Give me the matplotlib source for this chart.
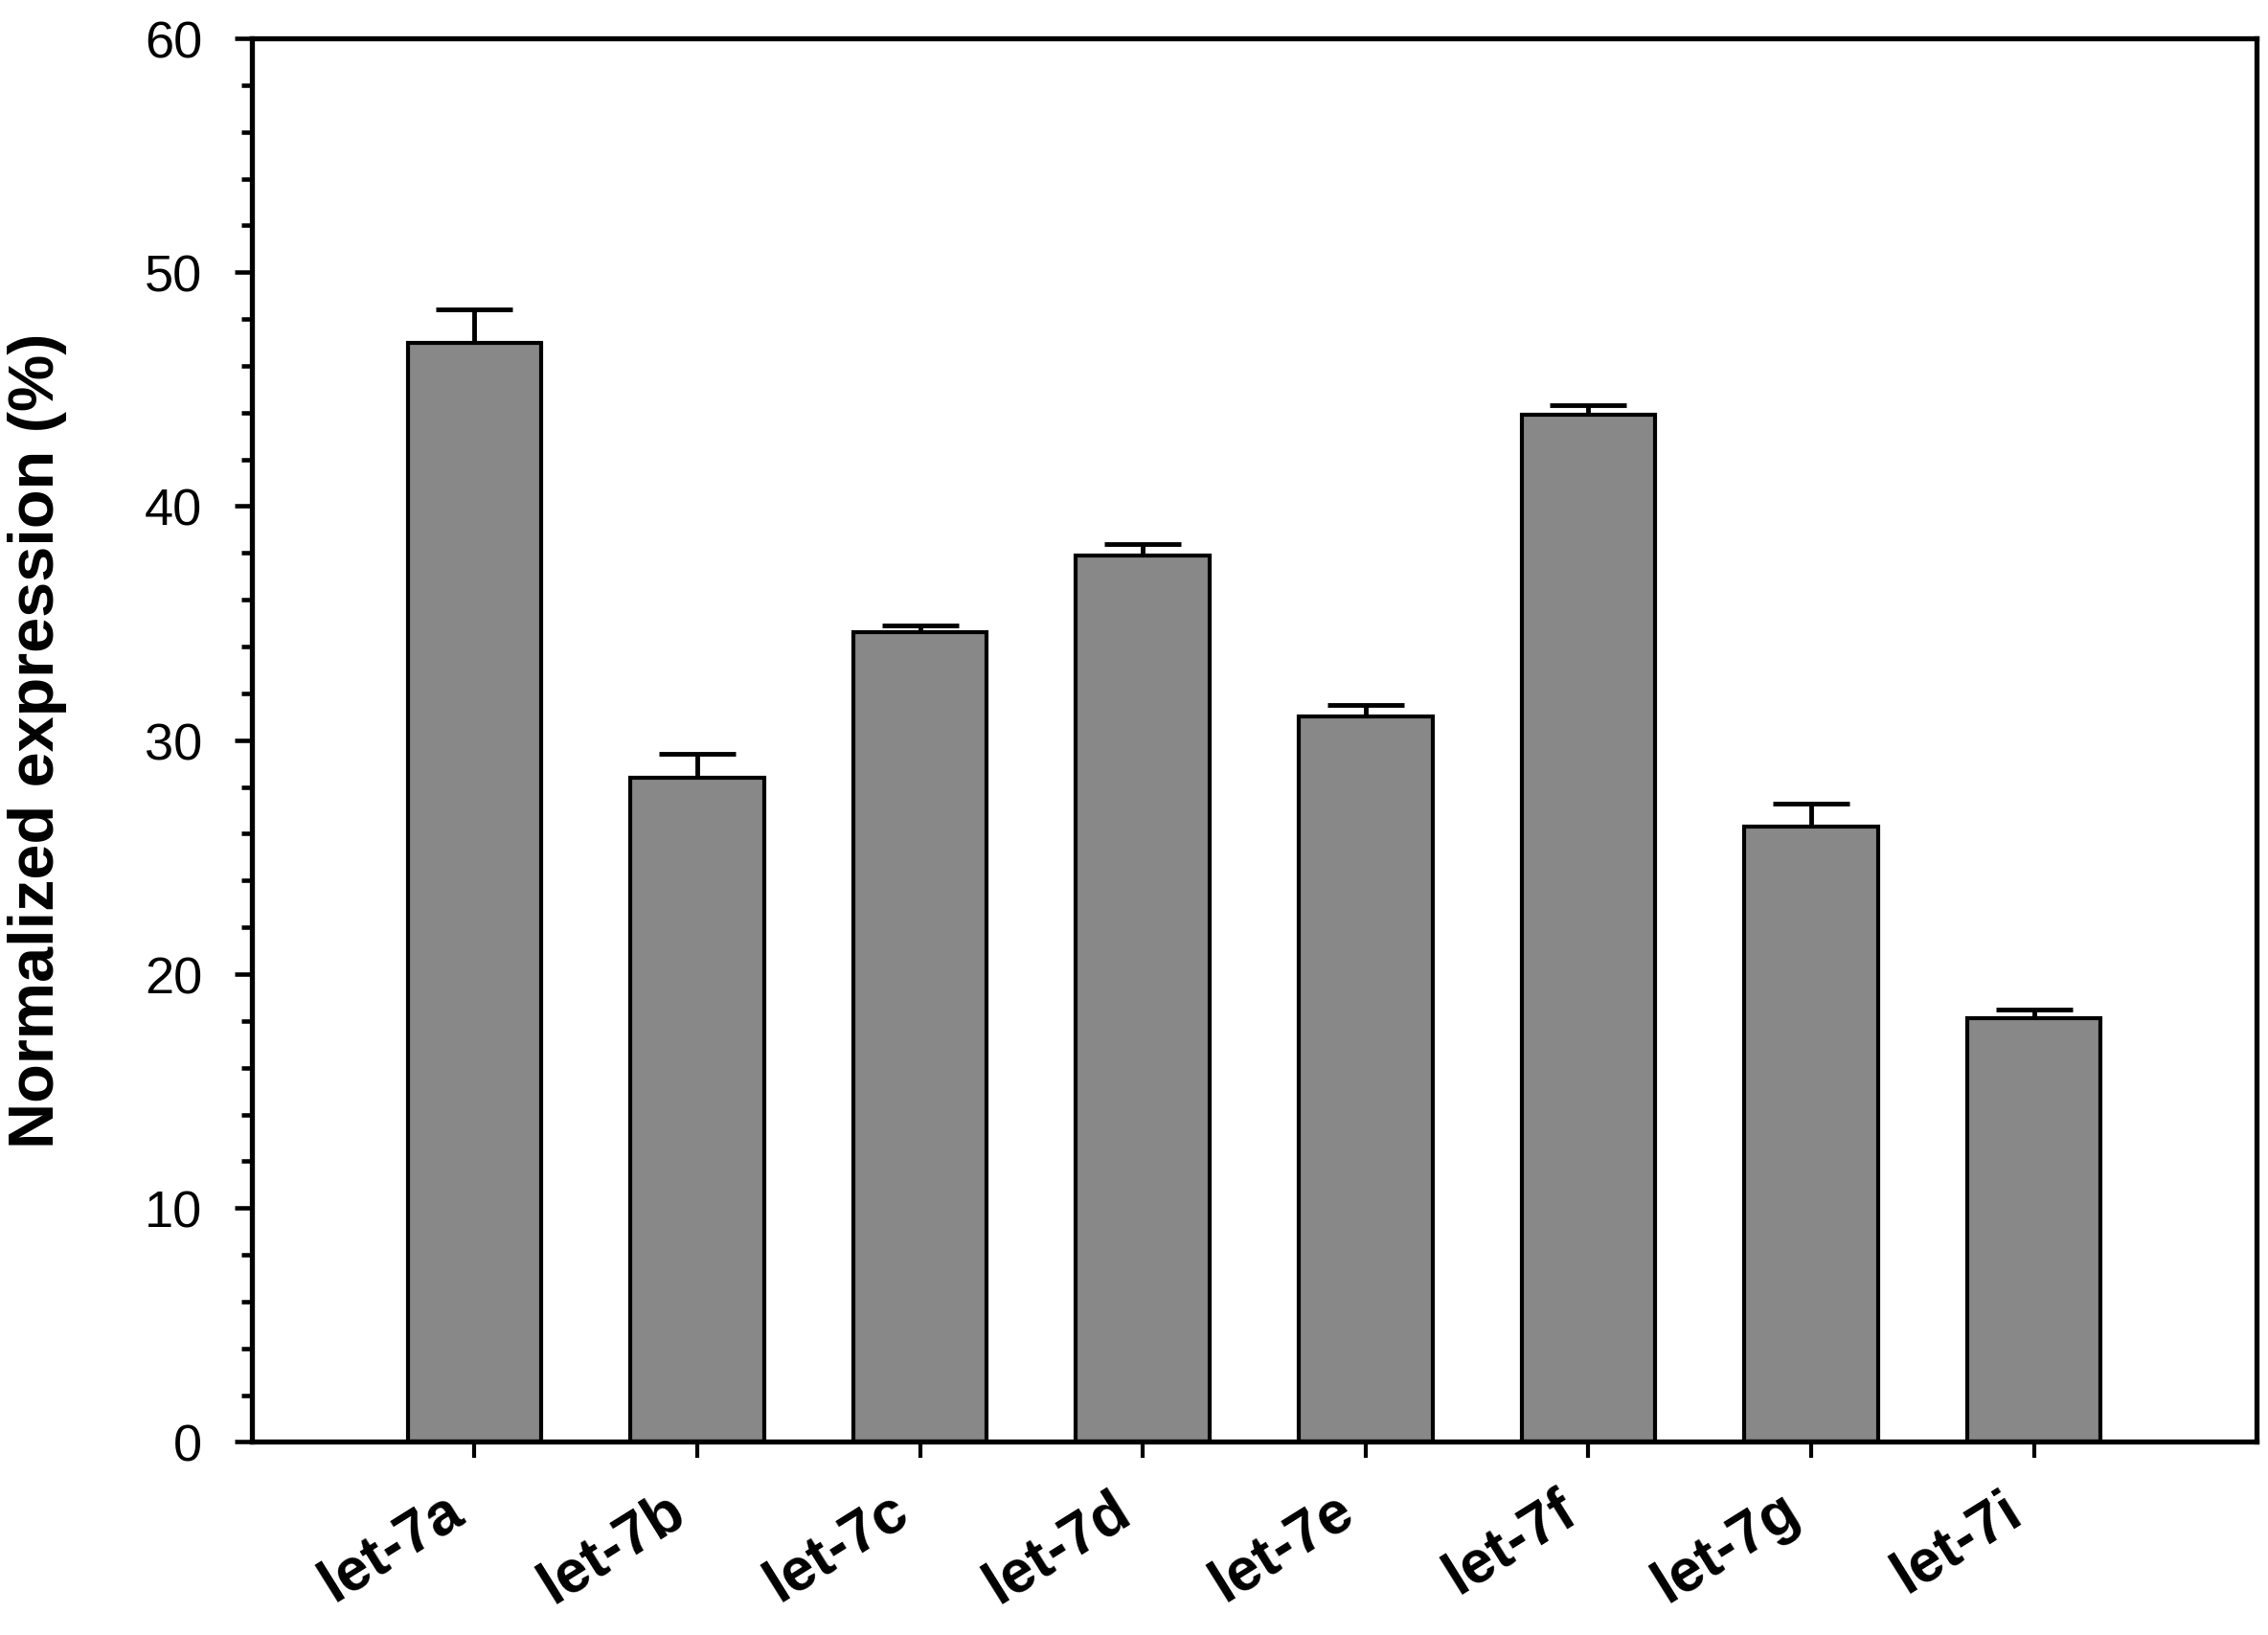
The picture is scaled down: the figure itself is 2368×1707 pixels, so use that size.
import numpy as np
import matplotlib.pyplot as plt
from matplotlib.ticker import MultipleLocator
from matplotlib.transforms import ScaledTranslation

# data
labels = ["let-7a", "let-7b", "let-7c", "let-7d", "let-7e", "let-7f", "let-7g", "let-7i"]
values = [47.0, 28.4, 34.6, 37.9, 31.0, 43.9, 26.3, 18.1]
errors = [1.4, 1.0, 0.3, 0.5, 0.5, 0.4, 1.0, 0.4]

plt.rcParams['font.family'] = ['Liberation Sans', 'DejaVu Sans']

fig = plt.figure(figsize=(23.68, 17.08), dpi=100)
ax = fig.add_axes([0.111, 0.118, 0.884, 0.858])

x = np.arange(len(labels))
lower = np.zeros(len(errors))
ax.bar(x, values, width=0.6, color='#888888', edgecolor='black', linewidth=3.0, zorder=2)
ax.errorbar(x, values, yerr=[lower, errors], fmt='none', ecolor='black',
            elinewidth=3.5, capsize=29, capthick=3.5, zorder=1)

ax.set_xlim(-1, 8)
ax.set_ylim(0, 60)
ax.yaxis.set_major_locator(MultipleLocator(10))
ax.yaxis.set_minor_locator(MultipleLocator(2))
ax.set_xticks(x)

for s in ax.spines.values():
    s.set_linewidth(3.8)

ax.tick_params(axis='y', which='major', direction='out', length=13, width=3.3,
               labelsize=39, pad=24)
ax.tick_params(axis='y', which='minor', direction='out', length=8, width=3.3)
ax.tick_params(axis='x', which='major', direction='out', length=12, width=3.0, pad=14)

ax.set_xticklabels(labels, rotation=32, ha='right', va='top', rotation_mode='anchor',
                   fontsize=45, fontweight='bold')
# nudge the rotated labels a bit to the left (after tick_params, which resets transforms)
shift = ScaledTranslation(-24 / 72, -3 / 72, fig.dpi_scale_trans)
for t in ax.get_xticklabels():
    t.set_transform(t.get_transform() + shift)

ax.set_ylabel('Normalized expression (%)', fontsize=48, fontweight='bold')
ax.yaxis.set_label_coords(-0.092, 0.5)

fig.savefig('out.png', dpi=100)
